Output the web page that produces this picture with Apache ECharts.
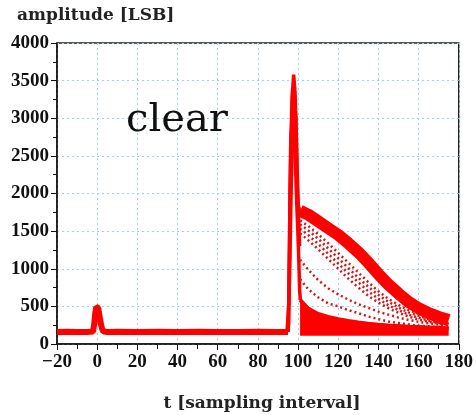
<!DOCTYPE html>
<html>
<head>
<meta charset="utf-8">
<script src="https://cdn.jsdelivr.net/npm/echarts@6/dist/echarts.min.js"></script>
<style>html,body{margin:0;padding:0;background:#fff;}#c{width:476px;height:415px;}</style>
</head>
<body>
<div id="c"></div>
<script>
// ---- data ----
const xTicks = [-20, 0, 20, 40, 60, 80, 100, 120, 140, 160, 180];
const yTicks = [0, 500, 1000, 1500, 2000, 2500, 3000, 3500, 4000];

// baseline with small pulse at t=0
const baseT = [-20, -15, -10, -5, -2, -1.5, -1, -0.5, 0, 0.5, 1, 1.5, 2, 2.5, 3, 5, 10, 20, 30, 40, 50, 60, 70, 80, 90, 95];
const baseV = [160, 162, 160, 161, 165, 260, 400, 490, 510, 480, 400, 320, 250, 200, 170, 160, 162, 160, 163, 160, 162, 160, 161, 162, 160, 160];

// main spike traces
const spike1T = [94.5, 95.3, 95.8, 96.3, 97, 97.8, 98.5, 99.1, 99.6, 100.1, 100.6, 101];
const spike1V = [160, 250, 1500, 2600, 3250, 3580, 3350, 2700, 2100, 1850, 1790, 1770];
const spike2T = [94.5, 95.5, 96, 96.6, 97.3, 98, 98.7, 99.3, 99.9, 100.4, 100.8, 101.2];
const spike2V = [160, 600, 2000, 2800, 3050, 2950, 2400, 1900, 1500, 1100, 700, 585];
const spike3T = [95, 95.7, 96.4, 97.2, 98, 98.8, 99.5, 100.2, 100.7];
const spike3V = [160, 1200, 2400, 3400, 3300, 2600, 2000, 1600, 1500];
const spike4T = [95.2, 95.9, 96.8, 97.6, 98.4, 99.1, 99.7, 100.3, 100.9];
const spike4V = [160, 900, 2200, 2900, 3200, 3000, 2300, 1700, 1300];

// decay curves
const decayT = [101, 105, 110, 115, 120, 125, 130, 135, 140, 145, 150, 155, 160, 165, 170, 175];
const upperV = [1770, 1720, 1630, 1540, 1450, 1340, 1220, 1080, 930, 790, 670, 560, 475, 410, 360, 320];
const bundle1V = [1640, 1570, 1460, 1340, 1210, 1080, 950, 820, 700, 600, 520, 450, 400, 350, 315, 295];
const bundle2V = [1590, 1510, 1400, 1270, 1140, 1010, 880, 760, 650, 560, 485, 420, 375, 330, 300, 280];
const bundle3V = [1530, 1450, 1330, 1200, 1070, 940, 820, 700, 600, 515, 450, 390, 350, 310, 285, 265];
const bundle4V = [1470, 1380, 1260, 1130, 1000, 870, 750, 640, 550, 475, 415, 365, 325, 295, 270, 255];
const mid1V = [1120, 990, 850, 740, 660, 590, 530, 480, 430, 390, 350, 320, 295, 275, 260, 245];
const mid2V = [860, 730, 620, 540, 500, 450, 410, 365, 330, 300, 280, 260, 245, 235, 225, 220];
const lowerTopV = [585, 470, 400, 360, 330, 305, 285, 268, 255, 245, 238, 230, 225, 220, 215, 210];

const pairs = (t, v) => t.map((x, i) => [x, v[i]]);
const RED = '#ff0000';

const chart = echarts.init(document.getElementById('c'), null, {renderer: 'canvas'});

function solid(t, v, w) {
  return {type: 'line', data: pairs(t, v), symbol: 'none', silent: true,
    lineStyle: {color: RED, width: w}, z: 3};
}
function dotted(v) {
  return {type: 'line', data: pairs(decayT, v), symbol: 'none', silent: true,
    lineStyle: {color: '#d01818', width: 2.5, type: [2, 3]}, z: 2};
}

const tickFont = {fontFamily: '"Liberation Serif"', fontWeight: 'bold', fontSize: 19, color: '#111'};

chart.setOption({
  animation: false,
  backgroundColor: '#fff',
  grid: {left: 57, right: 16, top: 43, bottom: 71, show: true, borderColor: '#222', borderWidth: 1.5, backgroundColor: 'transparent'},
  xAxis: {
    type: 'value', min: xTicks[0], max: xTicks[xTicks.length - 1], interval: 20,
    axisLine: {show: true, onZero: false, lineStyle: {color: '#111', width: 1.5}},
    axisTick: {show: true, length: 6, lineStyle: {color: '#111', width: 1}},
    minorTick: {show: true, splitNumber: 2, length: 5, lineStyle: {color: '#111', width: 1}},
    splitLine: {show: true, lineStyle: {color: '#a6cfe6', width: 1, type: [2, 3]}},
    axisLabel: Object.assign({margin: 9, formatter: v => String(v).replace('-', '\u2212')}, tickFont)
  },
  yAxis: {
    type: 'value', min: yTicks[0], max: yTicks[yTicks.length - 1], interval: 500,
    axisLine: {show: true, onZero: false, lineStyle: {color: '#111', width: 1.5}},
    axisTick: {show: true, length: 6, lineStyle: {color: '#111', width: 1}},
    minorTick: {show: true, splitNumber: 2, length: 4, lineStyle: {color: '#111', width: 1}},
    splitLine: {show: true, lineStyle: {color: '#a6cfe6', width: 1, type: [2, 3]}},
    axisLabel: Object.assign({margin: 8, formatter: v => String(v)}, tickFont)
  },
  graphic: [
    {type: 'text', left: 17, top: 7, style: {text: 'amplitude [LSB]', fill: '#222',
      font: 'bold 17px "DejaVu Serif"'}},
    {type: 'text', x: 262, y: 404, style: {text: 't [sampling interval]', fill: '#222',
      font: 'bold 17px "DejaVu Serif"', align: 'center', verticalAlign: 'middle'}},
    {type: 'text', x: 177, y: 121, z: 100, style: {text: 'clear', fill: '#111',
      font: '40px "DejaVu Serif"', align: 'center', verticalAlign: 'middle'}}
  ],
  series: [
    {type: 'line', data: pairs(decayT, lowerTopV), symbol: 'none', silent: true,
      lineStyle: {color: RED, width: 4}, areaStyle: {color: RED, opacity: 1, origin: 110}, z: 3},
    dotted(bundle1V), dotted(bundle2V), dotted(bundle3V), dotted(bundle4V),
    dotted(mid1V), dotted(mid2V),
    solid(decayT, upperV, 12),
    solid(baseT, baseV, 6),
    solid(spike1T, spike1V, 3.5),
    solid(spike2T, spike2V, 3.5),
    solid(spike3T, spike3V, 3),
    solid(spike4T, spike4V, 3)
  ]
});
</script>
</body>
</html>
